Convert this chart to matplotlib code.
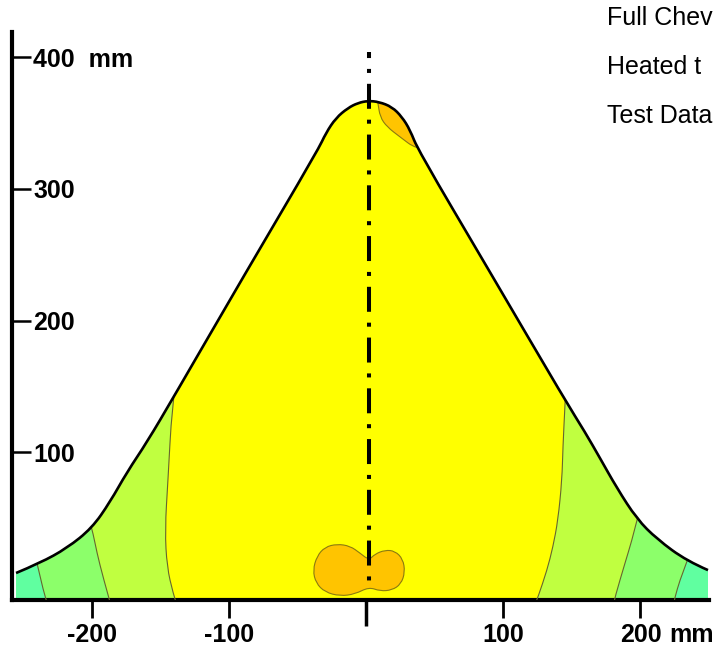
"""
Chevron profile with contour bands (re-drawn from a scanned figure)
"""
import matplotlib
matplotlib.use("Agg")
import matplotlib.pyplot as plt
import matplotlib.patches as patches
from matplotlib.path import Path

plt.rcParams['font.family'] = ['Liberation Sans', 'DejaVu Sans']

# free edge of the chevron, mm
profile_x = [-255.8, -238.3, -218.6, -200.4, -187.2, -174.8, -160.2,
             -141.2, -88.7, -35.4, -29.6, -22.3, -13.5, -6.2, 1.1, 9.1,
             18.6, 25.9, 31.8, 37.6, 90.1, 144.9, 159.5, 170.4, 182.8,
             197.4, 212.0, 233.9, 249.3]
profile_y = [8.4, 16.0, 27.3, 42.5, 62.3, 85.0, 107.8,
             141.2, 235.4, 329.5, 342.4, 353.8, 361.4, 365.2, 366.8, 366.0,
             362.2, 354.6, 344.7, 329.5, 236.9, 139.7, 115.4, 95.7, 72.9,
             49.4, 34.2, 17.5, 10.6]
base_y = -12.1

# contour boundaries (top to bottom), mm
left_1_x = [-139.1, -142.0, -144.9, -147.1, -145.6, -141.2, -139.1]
left_1_y = [154.9, 134.4, 79.0, 41.0, 12.9, -6.8, -13.7]
left_2_x = [-203.3, -200.4, -196.7, -192.3, -187.2]
left_2_y = [52.4, 42.5, 23.5, 5.3, -13.7]
left_3_x = [-242.0, -239.8, -234.7, -233.2]
left_3_y = [22.0, 12.9, -9.9, -13.7]
right_1_x = [145.6, 144.9, 143.4, 142.7, 139.8, 136.1, 131.8, 125.2, 123.7]
right_1_y = [151.1, 135.9, 104.0, 79.0, 48.6, 28.1, 10.6, -9.9, -13.7]
right_2_x = [199.6, 197.4, 193.8, 188.7, 181.4, 180.7]
right_2_y = [56.2, 48.6, 33.4, 15.9, -9.9, -13.7]
right_3_x = [236.1, 233.9, 228.8, 225.2, 224.5]
right_3_y = [24.3, 16.7, 3.0, -9.9, -13.7]

# hot spots
tip_x = [6.9, 8.4, 9.9, 15.0, 24.5, 36.1, 53.6, 53.6]
tip_y = [372.0, 365.2, 354.6, 347.0, 339.4, 330.3, 329.5, 375.1]
root_x = [1.8, -4.7, -12.0, -21.5, -30.3, -36.1, -39.1, -36.9, -30.3, -19.3,
          -8.4, 1.8, 9.9, 18.6, 25.2, 28.1, 26.6, 20.8, 13.5, 6.2]
root_y = [18.2, 23.5, 28.9, 30.4, 28.1, 21.3, 10.6, 0.8, -6.1, -9.1,
          -7.6, -2.3, -5.3, -4.6, 0.0, 9.1, 19.0, 25.1, 25.8, 22.8]

centre_x = 1.8
centre_y = [404, -3]

x_ticks = [-200, -100, 100, 200]
x_labels = ['-200', '-100', '100', '200']
y_ticks = [100, 200, 300, 400]
y_labels = ['100', '200', '300', '400  mm']
notes = ['Full Chev', 'Heated t', 'Test Data']

YELLOW = '#ffff00'
YGREEN = '#c0ff40'
GREEN = '#8cff6a'
CYAN = '#60ffa0'
ORANGE = '#ffc400'
EDGE = '#66662e'


def mid(a, b):
    return ((a[0] + b[0]) / 2., (a[1] + b[1]) / 2.)


def smooth_open(pts):
    """Quadratic B-spline through the midpoints, ends kept."""
    verts = [pts[0]]
    codes = [Path.MOVETO]
    if len(pts) == 2:
        return verts + [pts[1]], codes + [Path.LINETO]
    for i in range(1, len(pts) - 1):
        end = pts[i + 1] if i == len(pts) - 2 else mid(pts[i], pts[i + 1])
        verts += [pts[i], end]
        codes += [Path.CURVE3, Path.CURVE3]
    return verts, codes


def smooth_closed(pts):
    n = len(pts)
    verts = [mid(pts[-1], pts[0])]
    codes = [Path.MOVETO]
    for i in range(n):
        verts += [pts[i], mid(pts[i], pts[(i + 1) % n])]
        codes += [Path.CURVE3, Path.CURVE3]
    verts.append(verts[0])
    codes.append(Path.CLOSEPOLY)
    return Path(verts, codes)


fig = plt.figure(figsize=(7.18, 6.5), dpi=100)
ax = fig.add_axes([0.0174, 0.0769, 0.970, 0.874])
ax.set_xlim(-258.4, 250.0)
ax.set_ylim(base_y, 419.1)

edge_pts = list(zip(profile_x, profile_y))
ev, ec = smooth_open(edge_pts)
body_path = Path([(profile_x[0], base_y)] + ev + [(profile_x[-1], base_y),
                                                   (profile_x[0], base_y)],
                 [Path.MOVETO, Path.LINETO] + ec[1:] +
                 [Path.LINETO, Path.CLOSEPOLY])
body = patches.PathPatch(body_path, fc=YELLOW, ec='none', zorder=1)
ax.add_patch(body)


def band(xs, ys, far, colour):
    bv, bc = smooth_open(list(zip(xs, ys)))
    fill = Path(bv + [(far, ys[-1]), (far, ys[0]), bv[0]],
                bc + [Path.LINETO, Path.LINETO, Path.CLOSEPOLY])
    p = patches.PathPatch(fill, fc=colour, ec='none', zorder=2)
    ax.add_patch(p)
    p.set_clip_path(body)
    ln = patches.PathPatch(Path(bv, bc), fc='none', ec=EDGE, lw=0.8,
                           zorder=3)
    ax.add_patch(ln)
    ln.set_clip_path(body)


band(left_1_x, left_1_y, -400, YGREEN)
band(left_2_x, left_2_y, -400, GREEN)
band(left_3_x, left_3_y, -400, CYAN)
band(right_1_x, right_1_y, 400, YGREEN)
band(right_2_x, right_2_y, 400, GREEN)
band(right_3_x, right_3_y, 400, CYAN)

for xs, ys in [(tip_x, tip_y), (root_x, root_y)]:
    blob = patches.PathPatch(smooth_closed(list(zip(xs, ys))), fc=ORANGE,
                             ec='#8a7a10', lw=0.8, zorder=4)
    ax.add_patch(blob)
    blob.set_clip_path(body)

# outline, only the free edge
outline = patches.PathPatch(Path(ev, ec), fc='none', ec='black', lw=1.9,
                            capstyle='butt', zorder=5)
ax.add_patch(outline)

# symmetry line
ax.plot([centre_x, centre_x], centre_y, color='black', lw=2.9,
        linestyle=(4.7, (6.2, 2.7, 1.0, 2.7)), dash_capstyle='butt',
        zorder=6, clip_on=False)

for side in ['top', 'right']:
    ax.spines[side].set_visible(False)
for side in ['left', 'bottom']:
    ax.spines[side].set_linewidth(3.0)

ax.set_xticks(x_ticks)
ax.set_xticklabels(x_labels)
ax.set_xticks([0], minor=True)
ax.tick_params(axis='x', which='major', direction='out', length=13, width=2.0,
               pad=3.5, labelsize=18)
ax.tick_params(axis='x', which='minor', direction='out', length=19, width=2.5)
ax.set_yticks(y_ticks)
ax.set_yticklabels(y_labels)
ax.tick_params(axis='y', direction='in', length=14, width=1.8, pad=-15,
               labelsize=18)
for lab in ax.get_yticklabels():
    lab.set_horizontalalignment('left')
    lab.set_fontweight('bold')
for lab in ax.get_xticklabels():
    lab.set_fontweight('bold')

ax.annotate('mm', xy=(200, 0), xycoords=('data', 'axes fraction'),
            xytext=(21, -30), textcoords='offset points', fontsize=18,
            fontweight='bold', va='baseline', ha='left')

for i, s in enumerate(notes):
    fig.text(0.8455, 0.9615 - i * 0.0754, s, fontsize=18, va='baseline',
             ha='left')

fig.savefig('out.png', dpi=100)
